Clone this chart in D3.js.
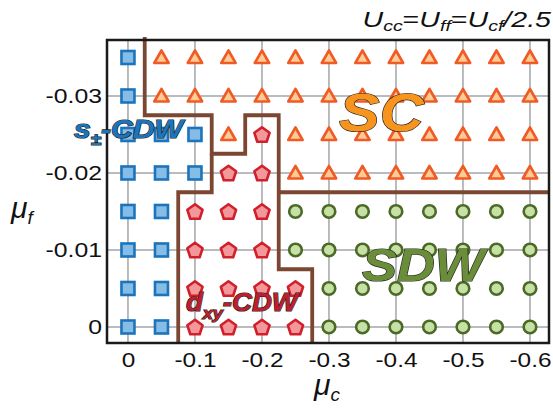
<!DOCTYPE html>
<html>
<head>
<meta charset="utf-8">
<script src="https://cdn.jsdelivr.net/npm/d3@7"></script>
<style>
  body { margin: 0; background: #fff; }
  text { font-family: "Liberation Sans", Arial, sans-serif; }
</style>
</head>
<body>
<div id="chart"></div>
<script>
// grid of computed points: mu_c columns, mu_f rows
var muC = [0, -0.05, -0.1, -0.15, -0.2, -0.25, -0.3, -0.35, -0.4, -0.45, -0.5, -0.55, -0.6];
var muF = [0, -0.005, -0.01, -0.015, -0.02, -0.025, -0.03, -0.035];

// phase at each point, one string per row (row 0 = mu_f 0), one letter per column
// S = s+-CDW, D = dxy-CDW, T = SC, W = SDW
var phaseRows = [
    "SSDDDDWWWWWWW",
    "SSDDDDWWWWWWW",
    "SSDDDWWWWWWWW",
    "SSDDDWWWWWWWW",
    "SSSDDTTTTTTTT",
    "SSSTDTTTTTTTT",
    "STTTTTTTTTTTT",
    "STTTTTTTTTTTT"
];

var xTicks = [0, -0.1, -0.2, -0.3, -0.4, -0.5, -0.6];
var yTicks = [0, -0.01, -0.02, -0.03];

// phase boundaries (mu_c, mu_f); "top"/"bottom"/"right" = frame edge
var boundaryA = [[-0.025, "top"], [-0.025, -0.0275], [-0.125, -0.0275], [-0.125, -0.0225],
    [-0.175, -0.0225], [-0.175, -0.0275], [-0.225, -0.0275], [-0.225, -0.0075],
    [-0.275, -0.0075], [-0.275, "bottom"]];
var boundaryB = [[-0.125, -0.0225], [-0.125, -0.0175], [-0.075, -0.0175], [-0.075, "bottom"]];
var boundaryC = [[-0.225, -0.0175], ["right", -0.0175]];

var width = 553, height = 410;
var padL = 107, padR = 549, padT = 40, padB = 343;

var x = d3.scaleLinear().domain([0.0313, -0.6284]).range([padL, padR]);
var y = d3.scaleLinear().domain([0.00208, -0.03727]).range([padB, padT]);

var svg = d3.select("#chart").append("svg")
    .attr("width", width)
    .attr("height", height);

// grid lines
svg.append("g").selectAll("line").data(xTicks).enter().append("line")
    .attr("x1", d => x(d)).attr("x2", d => x(d))
    .attr("y1", padT).attr("y2", padB)
    .attr("stroke", "#a3a5a8").attr("stroke-width", 1.5);
svg.append("g").selectAll("line").data(yTicks).enter().append("line")
    .attr("y1", d => y(d)).attr("y2", d => y(d))
    .attr("x1", padL).attr("x2", padR)
    .attr("stroke", "#a3a5a8").attr("stroke-width", 1.5);

// axes (labels only, matlab-style hyphen minus, type is wide in the original)
var xAxis = svg.append("g")
    .attr("transform", "translate(0," + padB + ")")
    .call(d3.axisBottom(x).tickValues(xTicks).tickSize(0).tickPadding(10)
        .tickFormat(d => d === 0 ? "0" : "-" + Math.abs(d).toFixed(1)));
xAxis.select(".domain").remove();
xAxis.selectAll("text").style("font-size", "20px").attr("fill", "#111")
    .attr("transform", "scale(1.22,1)");

var yAxis = svg.append("g")
    .attr("transform", "translate(" + padL + ",0)")
    .call(d3.axisLeft(y).tickValues(yTicks).tickSize(0).tickPadding(4)
        .tickFormat(d => d === 0 ? "0" : "-" + Math.abs(d).toFixed(2)));
yAxis.select(".domain").remove();
yAxis.selectAll("text").style("font-size", "20px").attr("fill", "#111")
    .attr("transform", "scale(1.24,1)");

// markers
var points = [];
phaseRows.forEach(function(row, j) {
    row.split("").forEach(function(p, i) {
        points.push({c: muC[i], f: muF[j], p: p});
    });
});

var pentagon = d3.range(5).map(function(k) {
    var a = -Math.PI / 2 + k * 2 * Math.PI / 5;
    return [8 * Math.cos(a), 8 * Math.sin(a) + 0.8];
});
var triangle = [[0, -7], [7.2, 5.5], [-7.2, 5.5]];

var marks = svg.append("g").selectAll("g").data(points).enter().append("g")
    .attr("transform", d => "translate(" + x(d.c) + "," + y(d.f) + ")");

marks.each(function(d) {
    var g = d3.select(this);
    if (d.p === "S") {
        g.append("rect").attr("x", -6.5).attr("y", -6.5).attr("width", 13).attr("height", 13)
            .attr("fill", "#85bde6").attr("stroke", "#1c75bc").attr("stroke-width", 2.6);
    } else if (d.p === "D") {
        g.append("polygon").attr("points", pentagon.map(p => p.join(",")).join(" "))
            .attr("fill", "#f3989a").attr("stroke", "#d11f2c").attr("stroke-width", 2.6)
            .attr("stroke-linejoin", "round");
    } else if (d.p === "T") {
        g.append("polygon").attr("points", triangle.map(p => p.join(",")).join(" "))
            .attr("fill", "#fdcc96").attr("stroke", "#f15a24").attr("stroke-width", 2.6)
            .attr("stroke-linejoin", "round");
    } else {
        g.append("circle").attr("r", 6.3)
            .attr("fill", "#c6e0a5").attr("stroke", "#4c6a27").attr("stroke-width", 2.6);
    }
});

// phase boundaries
var px = v => v === "right" ? padR : x(v);
var py = v => v === "top" ? padT - 3 : (v === "bottom" ? padB + 1 : y(v));
var line = d3.line().x(d => px(d[0])).y(d => py(d[1]));
[boundaryA, boundaryB, boundaryC].forEach(function(b) {
    svg.append("path").attr("d", line(b))
        .attr("fill", "none").attr("stroke", "#7b4632").attr("stroke-width", 3.8)
        .attr("stroke-linejoin", "miter");
});

// frame
svg.append("rect").attr("x", padL).attr("y", padT)
    .attr("width", padR - padL).attr("height", padB - padT)
    .attr("fill", "none").attr("stroke", "#1a1a1a").attr("stroke-width", 2.5);

// phase labels
function phaseLabel(tx, ty, sx, size, fill) {
    return svg.append("g").attr("transform", "translate(" + tx + "," + ty + ") scale(" + sx + ",1)")
        .append("text")
        .style("font-size", size + "px").style("font-weight", "bold").style("font-style", "italic")
        .attr("fill", fill).attr("stroke", "#231f20").attr("stroke-width", 1.2)
        .attr("paint-order", "stroke");
}
phaseLabel(339, 131, 1.15, 53, "#f7941d").text("SC");
phaseLabel(362, 281, 1.14, 46, "#6a8d39").text("SDW");

var sl = phaseLabel(74, 138, 1.16, 26, "#1c75bc");
sl.append("tspan").text("s");
sl.append("tspan").attr("dy", 7).style("font-size", "16px").text("±");
sl.append("tspan").attr("dy", -7).text("-CDW");

var dl = phaseLabel(186, 311, 1.06, 26, "#be1e2d");
dl.append("tspan").text("d");
dl.append("tspan").attr("dy", 8).style("font-size", "17px").text("xy");
dl.append("tspan").attr("dy", -8).text("-CDW");

// axis titles
var xl = svg.append("text").attr("x", 314).attr("y", 395).attr("fill", "#111")
    .style("font-size", "30px").style("font-style", "italic");
xl.append("tspan").text("μ");
xl.append("tspan").attr("dy", 6).style("font-size", "19px").text("c");

var yl = svg.append("text").attr("x", 11).attr("y", 218).attr("fill", "#111")
    .style("font-size", "30px").style("font-style", "italic");
yl.append("tspan").text("μ");
yl.append("tspan").attr("dy", 6).style("font-size", "19px").text("f");

// title
var t = svg.append("g").attr("transform", "translate(551,27) scale(1.3,1)")
    .append("text").attr("text-anchor", "end")
    .attr("fill", "#111").style("font-size", "22px").style("font-style", "italic");
t.append("tspan").text("U");
t.append("tspan").attr("dy", 4).style("font-size", "15px").text("cc");
t.append("tspan").attr("dy", -4).style("font-style", "normal").text("=");
t.append("tspan").text("U");
t.append("tspan").attr("dy", 4).style("font-size", "15px").text("ff");
t.append("tspan").attr("dy", -4).style("font-style", "normal").text("=");
t.append("tspan").text("U");
t.append("tspan").attr("dy", 4).style("font-size", "15px").text("cf");
t.append("tspan").attr("dy", -4).text("/2.5");
</script>
</body>
</html>
